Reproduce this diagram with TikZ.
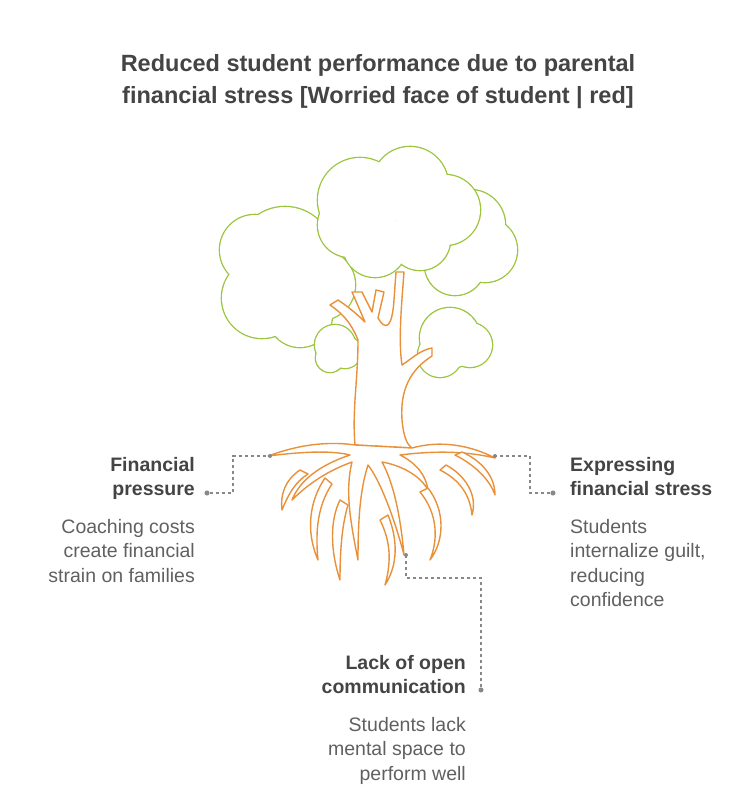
\documentclass[tikz,border=0pt]{standalone}
\usepackage{fontspec}
\setmainfont{Liberation Sans}
\definecolor{lg}{HTML}{9BC53D}
\definecolor{or}{HTML}{E8913A}
\definecolor{tx}{HTML}{444444}
\definecolor{dl}{HTML}{888888}
\begin{document}
\begin{tikzpicture}[x=1pt,y=-1pt,
  ttl/.style={font=\bfseries\fontsize{23.5}{32}\selectfont,text=tx,align=center},
  hd/.style={font=\bfseries\fontsize{19.5}{24.5}\selectfont,text=tx,inner sep=0},
  ds/.style={font=\fontsize{19.5}{24.5}\selectfont,text=tx!85,inner sep=0},
  con/.style={draw=dl,dashed,line width=1.2pt},
  dotc/.style={circle,fill=dl,inner sep=1.8pt},
  leaf/.style={draw=lg,line width=1.3pt,fill=white},
  root/.style={draw=or,line width=1.4pt,fill=white,line join=round}]
\useasboundingbox (0,0) rectangle (753,796);
\node[ttl] (title) at (378,82) {Reduced student performance due to parental\\financial stress [Worried face of student | red]};
% canopy
\foreach \c/\r in {{(285,255)}/48,{(262,298)}/40,{(300,315)}/32,{(320,285)}/35,{(255,250)}/35} \fill[lg] \c circle (\r+1.3);
\foreach \c/\r in {{(285,255)}/48,{(262,298)}/40,{(300,315)}/32,{(320,285)}/35,{(255,250)}/35} \fill[white] \c circle (\r);
\foreach \c/\r in {{(470,225)}/35,{(485,250)}/32,{(455,265)}/30,{(440,240)}/30} \fill[lg] \c circle (\r+1.3);
\foreach \c/\r in {{(470,225)}/35,{(485,250)}/32,{(455,265)}/30,{(440,240)}/30} \fill[white] \c circle (\r);
\foreach \c/\r in {{(360,200)}/42,{(410,185)}/38,{(445,210)}/35,{(420,240)}/30,{(375,245)}/32,{(350,225)}/32} \fill[lg] \c circle (\r+1.3);
\foreach \c/\r in {{(360,200)}/42,{(410,185)}/38,{(445,210)}/35,{(420,240)}/30,{(375,245)}/32,{(350,225)}/32} \fill[white] \c circle (\r);
\foreach \c/\r in {{(335,345)}/20,{(345,352)}/16,{(330,358)}/14} \fill[lg] \c circle (\r+1.3);
\foreach \c/\r in {{(335,345)}/20,{(345,352)}/16,{(330,358)}/14} \fill[white] \c circle (\r);
\foreach \c/\r in {{(450,338)}/30,{(470,345)}/22,{(440,355)}/22} \fill[lg] \c circle (\r+1.3);
\foreach \c/\r in {{(450,338)}/30,{(470,345)}/22,{(440,355)}/22} \fill[white] \c circle (\r);
% trunk
\draw[root] (355,445) .. controls (352,410) and (358,380) .. (358,340)
  .. controls (350,320) and (340,312) .. (330,305) -- (338,300)
  .. controls (350,308) and (358,315) .. (365,322) -- (352,292) -- (362,292) -- (372,312)
  -- (376,290) -- (384,292) -- (378,318) .. controls (385,330) and (392,330) .. (394,300)
  -- (396,272) -- (404,272) .. controls (402,300) and (398,340) .. (402,365)
  .. controls (410,360) and (420,350) .. (432,348) -- (432,356)
  .. controls (410,370) and (400,390) .. (402,420) .. controls (404,440) and (408,445) .. (412,448) -- cycle;
% roots
\draw[root] (355,445) .. controls (320,440) and (290,448) .. (268,456) .. controls (300,452) and (330,450) .. (350,455)
  .. controls (320,465) and (300,480) .. (292,500) .. controls (310,482) and (330,470) .. (352,462)
  .. controls (345,490) and (350,520) .. (358,560) .. controls (358,520) and (360,490) .. (368,465)
  .. controls (380,480) and (395,520) .. (404,555) .. controls (400,510) and (392,480) .. (382,462)
  .. controls (400,465) and (420,475) .. (428,490) .. controls (425,470) and (410,460) .. (400,455)
  .. controls (440,450) and (470,452) .. (495,458) .. controls (470,445) and (440,440) .. (412,448) -- cycle;
\draw[root] (300,470) .. controls (285,480) and (280,495) .. (282,510) .. controls (288,495) and (295,482) .. (308,474) -- cycle;
\draw[root] (325,478) .. controls (310,500) and (305,530) .. (318,560) .. controls (315,530) and (318,505) .. (332,484) -- cycle;
\draw[root] (340,500) .. controls (330,520) and (330,550) .. (340,580) .. controls (340,550) and (342,525) .. (348,505) -- cycle;
\draw[root] (420,492) .. controls (435,510) and (440,535) .. (430,560) .. controls (445,540) and (445,510) .. (428,488) -- cycle;
\draw[root] (440,470) .. controls (460,480) and (470,495) .. (472,515) .. controls (478,495) and (465,475) .. (446,465) -- cycle;
\draw[root] (455,455) .. controls (475,465) and (490,480) .. (495,495) .. controls (495,475) and (480,460) .. (462,452) -- cycle;
\draw[root] (380,520) .. controls (390,540) and (392,560) .. (385,585) .. controls (398,565) and (398,540) .. (388,515) -- cycle;
% anchors
\coordinate (a1) at (270,456);
\coordinate (a2) at (495,456);
\coordinate (a3) at (406,555);
% labels
\node[hd,anchor=north east,align=right] (h1) at (195,457) {Financial\\pressure};
\node[ds,anchor=north east,align=right] (d1) at (195,519) {Coaching costs\\create financial\\strain on families};
\node[hd,anchor=north west,align=left] (h2) at (570,457) {Expressing\\financial stress};
\node[ds,anchor=north west,align=left] (d2) at (570,519) {Students\\internalize guilt,\\reducing\\confidence};
\node[hd,anchor=north east,align=right] (h3) at (466,655) {Lack of open\\communication};
\node[ds,anchor=north east,align=right] (d3) at (466,717) {Students lack\\mental space to\\perform well};
\node[dotc] (p1) at (207,493) {};
\node[dotc] (p2) at (553,493) {};
\node[dotc] (p3) at (481,690) {};
\draw[con] (p1) -- (233,493) -- (233,456) -- (a1);
\draw[con] (p2) -- (530,493) -- (530,456) -- (a2);
\draw[con] (p3) -- (481,578) -- (406,578) -- (a3);
\fill[dl] (a1) circle (2); \fill[dl] (a2) circle (2); \fill[dl] (a3) circle (2);
\end{tikzpicture}
\end{document}
